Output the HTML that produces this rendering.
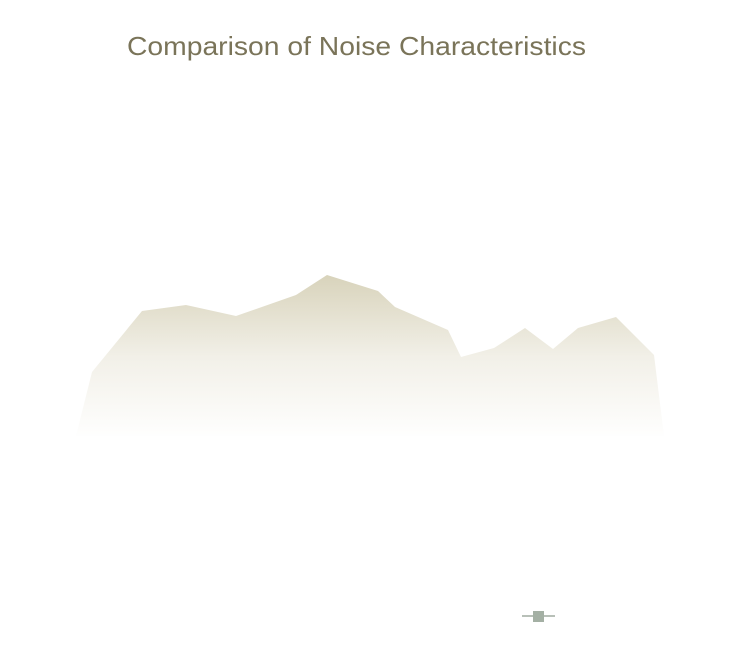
<!DOCTYPE html>
<html><head><meta charset="utf-8"><style>
body{margin:0;background:#fff;}
</style></head><body>
<svg width="751" height="644" xmlns="http://www.w3.org/2000/svg">
<defs>
<linearGradient id="g" x1="0" y1="275" x2="0" y2="440" gradientUnits="userSpaceOnUse">
<stop offset="0" stop-color="#d8d3bb"/>
<stop offset="0.5" stop-color="#f2f0e8"/>
<stop offset="1" stop-color="#ffffff"/>
</linearGradient>
</defs>
<rect width="751" height="644" fill="#fff"/>
<text x="127" y="55" font-family="Liberation Sans, sans-serif" font-size="26" fill="#7a7459" textLength="459" lengthAdjust="spacingAndGlyphs">Comparison of Noise Characteristics</text>
<polygon fill="url(#g)" points="76,436 92,372 142,311 186,305 236,316 296,295 327,275 378,291 395,307 448,330 461,357 494,348 525,328 553,349 578,328 616,317 654,355 664,436"/>
<line x1="522" y1="616" x2="555" y2="616" stroke="#b8c0b8" stroke-width="2"/>
<rect x="533" y="611" width="11" height="11" fill="#a4b0a4"/>
</svg>
</body></html>
